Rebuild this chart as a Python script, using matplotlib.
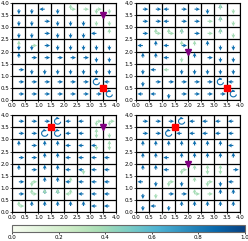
import numpy as np
import matplotlib.pyplot as plt
from matplotlib import patches
from matplotlib.colors import Normalize
from matplotlib.cm import ScalarMappable

# grid world policies, top row first.
# upper case = likely action, lower case = unlikely action, S = stay
policy_tl = [
    "D D L D ur r rd d",
    "D D R D D D d d",
    "D D R D D D L u",
    "Du Dr R D D D D D",
    "U R R R R R D D",
    "R D D D D D D D",
    "R R R R R R S L",
    "R R R R R R R S",
]
policy_tr = [
    "R R L R R D Uu d",
    "R R L R R r Uu d",
    "R ur ur Uu R r Uu d",
    "L U L Ru u U D D",
    "U U L d U R D D",
    "D L l D D D D D",
    "D R R R R R S L",
    "L L D R R R R S",
]
policy_bl = [
    "R R R S L L rd rd",
    "R R S S L L ud d",
    "U R U U L L Ld ud",
    "R R U U L L L L",
    "U R U U L Ld L L",
    "R rd U U Lu L L L",
    "R ur Uu Uu lu L L L",
    "ur U U U U U L L",
]
policy_br = [
    "R R R S L L L L",
    "R R S L L L L L",
    "U U U U U U U L",
    "U U L U U U U U",
    "U U L dr u ud ud R",
    "L D rd D u rd D L",
    "D d R R ur r U U",
    "D L D U U U U U",
]
policies = [policy_tl, policy_tr, policy_bl, policy_br]
goal_x = [3.5, 3.5, 1.5, 1.5]
goal_y = [0.5, 0.5, 3.5, 3.5]
start_x = [3.5, 2.0, 3.5, 2.0]
start_y = [3.5, 2.0, 3.5, 2.0]

n = 8
cell = 0.5
size = n * cell
dirs = {'u': (0, 1), 'd': (0, -1), 'l': (-1, 0), 'r': (1, 0)}
cmap = plt.get_cmap('GnBu')
norm = Normalize(0, 1)


def draw_policy(ax, policy):
    X, Y, U, V, C = [], [], [], [], []
    for i, row in enumerate(policy):
        y = (n - 1 - i) * cell + cell / 2
        for j, tok in enumerate(row.split()):
            x = j * cell + cell / 2
            for ch in tok:
                p = 0.85 if ch.isupper() else 0.38
                if ch.lower() == 's':
                    col = cmap(norm(p))
                    ax.add_patch(patches.Arc((x, y), 0.24, 0.24, theta1=60, theta2=350,
                                             color=col, lw=0.8, zorder=3))
                    ax.annotate('', xy=(x + 0.06, y + 0.105), xytext=(x + 0.0, y + 0.12),
                                arrowprops=dict(arrowstyle='-|>', color=col, lw=0.6,
                                                mutation_scale=3), zorder=3)
                    continue
                dx, dy = dirs[ch.lower()]
                X.append(x)
                Y.append(y)
                U.append(dx * 0.21)
                V.append(dy * 0.21)
                C.append(p)
    ax.quiver(X, Y, U, V, C, cmap=cmap, clim=(0, 1), angles='xy', scale_units='xy',
              scale=1, width=0.011, headwidth=3.5, headlength=3.5, headaxislength=3,
              zorder=3)


fig = plt.figure(figsize=(2.48, 2.41), dpi=100)
positions = [
    [0.050, 0.585, 0.417, 0.402],
    [0.550, 0.585, 0.417, 0.402],
    [0.050, 0.120, 0.417, 0.402],
    [0.550, 0.120, 0.417, 0.402],
]
for k, pos in enumerate(positions):
    ax = fig.add_axes(pos)
    draw_policy(ax, policies[k])
    ax.plot(goal_x[k], goal_y[k], 's', color='red', ms=5, zorder=5)
    ax.plot(start_x[k], start_y[k], 'v', color='purple', ms=4, zorder=5)
    ticks = np.arange(0, size + 0.01, cell)
    ax.set_xticks(ticks)
    ax.set_yticks(ticks)
    ax.set_xlim(0, size)
    ax.set_ylim(0, size)
    ax.grid(color='black', lw=0.9)
    ax.set_axisbelow(True)
    ax.tick_params(labelsize=4, length=1.5, width=0.5, pad=0.8)

cax = fig.add_axes([0.050, 0.037, 0.938, 0.029])
cb = fig.colorbar(ScalarMappable(norm=norm, cmap=cmap), cax=cax, orientation='horizontal')
cb.set_ticks(np.arange(0, 1.01, 0.2))
cb.ax.tick_params(labelsize=4, length=1.5, width=0.5, pad=0.8)
cb.outline.set_edgecolor('dimgray')
cb.outline.set_linewidth(0.8)

fig.savefig('out.png', dpi=100)
